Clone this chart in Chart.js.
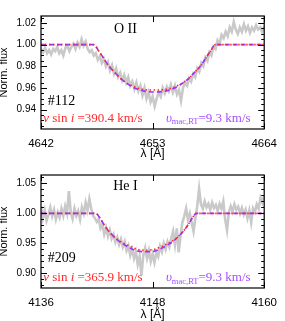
<!DOCTYPE html>
<html><head><meta charset="utf-8">
<script src="https://cdn.jsdelivr.net/npm/chart.js@4/dist/chart.umd.min.js"></script>
<style>
html,body{margin:0;padding:0;background:#fff;}
#wrap{position:relative;width:285px;height:321px;overflow:hidden;}
.pn{position:absolute;left:0;width:285px;}
</style></head><body>
<div id="wrap">
<div class="pn" style="top:0;height:160px"><canvas id="c1"></canvas></div>
<div class="pn" style="top:160px;height:161px"><canvas id="c2"></canvas></div>
</div>
<script>
// ---------- Panel 1 : O II ----------
const p1XTicks = [4642, 4653, 4664];
const p1YTicks = [0.94, 0.96, 0.98, 1.00, 1.02];
const obs1Start = 4642, obs1Step = 0.2;
const obs1Flux = [
0.996,0.993,0.997,0.992,0.995,0.991,0.996,0.994,0.998,0.992,
0.995,0.990,0.997,0.999,0.994,0.998,1.001,0.996,1.002,0.998,
1.005,0.999,1.003,0.996,0.993,0.995,0.990,0.992,0.986,0.989,
0.983,0.987,0.980,0.984,0.976,0.981,0.973,0.978,0.970,0.974,
0.967,0.972,0.965,0.970,0.962,0.966,0.959,0.965,0.957,0.962,
0.953,0.960,0.950,0.956,0.947,0.952,0.943,0.950,0.956,0.952,
0.960,0.955,0.961,0.957,0.963,0.956,0.962,0.954,0.958,0.948,
0.960,0.965,0.962,0.969,0.966,0.973,0.970,0.978,0.975,0.983,
0.980,0.988,0.985,0.993,0.990,0.998,0.996,1.004,1.001,1.009,
1.006,1.012,1.008,1.016,1.012,1.021,1.014,1.010,1.016,1.012,
1.019,1.013,1.017,1.011,1.016,1.013,1.018,1.014,1.016,1.012,
1.017];
const mod1Wave  = [4642,4647.2,4647.7,4648.2,4648.7,4649.2,4649.7,4650.2,4651.2,4652.2,4653.2,4654.2,4655.2,4656.2,4656.7,4657.2,4657.7,4658.2,4658.7,4659.2,4664];
const mod1Vmac  = [1,1,0.994,0.987,0.980,0.975,0.970,0.966,0.960,0.957,0.9562,0.957,0.960,0.966,0.970,0.975,0.980,0.987,0.994,1,1];
const mod1Vsini = [1,1,0.994,0.987,0.980,0.975,0.970,0.966,0.961,0.9585,0.958,0.9585,0.961,0.966,0.970,0.975,0.980,0.987,0.994,1,1];

// ---------- Panel 2 : He I ----------
const p2XTicks = [4136, 4148, 4160];
const p2YTicks = [0.90, 0.95, 1.00, 1.05];
const obs2Start = 4136, obs2Step = 0.2;
const obs2Flux = [
1.012,0.992,1.005,0.988,0.998,1.010,0.995,1.006,0.990,1.002,
0.993,1.008,0.996,1.012,1.000,1.037,1.002,0.991,1.008,0.996,
1.004,0.990,1.010,1.000,1.018,1.005,1.024,1.008,0.996,0.992,
0.986,0.990,0.975,0.982,0.965,0.976,0.962,0.972,0.958,0.965,
0.952,0.960,0.948,0.957,0.944,0.953,0.938,0.946,0.930,0.940,
0.925,0.936,0.915,0.928,0.897,0.930,0.942,0.925,0.938,0.920,
0.932,0.918,0.935,0.928,0.945,0.936,0.950,0.940,0.953,0.944,
0.958,0.970,0.948,0.975,0.935,0.962,0.985,0.995,1.008,0.990,
1.000,0.985,0.970,0.992,1.012,1.041,1.015,1.008,1.020,1.010,
1.016,1.006,1.018,1.009,1.014,1.004,1.016,1.008,1.020,0.990,
0.972,1.002,1.012,1.003,1.015,1.006,1.011,1.000,1.009,0.998,
1.006,0.992,1.005,0.985,1.008,1.002,1.015,1.008,1.026,1.018,
1.030];
const mod2Wave  = [4136,4141.9,4142.3,4142.7,4143.1,4143.6,4144.2,4144.8,4145.6,4146.4,4147.3,4148.2,4149.0,4149.8,4150.4,4151.0,4151.5,4151.9,4152.3,4152.7,4160];
const mod2Vmac  = [1,1,0.993,0.983,0.974,0.965,0.956,0.949,0.942,0.937,0.936,0.937,0.942,0.949,0.956,0.965,0.974,0.983,0.993,1,1];
const mod2Vsini = [1,1,0.993,0.983,0.974,0.965,0.957,0.951,0.945,0.940,0.9385,0.940,0.945,0.951,0.957,0.965,0.974,0.983,0.993,1,1];

const GRAY = '#c9c9c9', RED = '#ff2a2a', PURPLE = '#9933ff', PURPLE_TXT = '#a64dff';
const SANS = "'Liberation Sans', Arial, sans-serif";
const SERIF = "'Liberation Serif', 'Times New Roman', serif";

function seriesXY(start, step, arr){ return arr.map((v,i)=>({x:+(start+i*step).toFixed(2), y:v})); }
function pairXY(xs, ys){ return xs.map((x,i)=>({x:x, y:ys[i]})); }

const framePlugin = {
  id:'frame',
  afterDraw(chart){
    const o = chart.options.plugins.frame;
    const {ctx, chartArea:a, scales:{x,y}} = chart;
    ctx.save();
    ctx.strokeStyle = '#000'; ctx.lineWidth = 1.2;
    ctx.strokeRect(a.left, a.top, a.right-a.left, a.bottom-a.top);
    ctx.lineWidth = 1;
    ctx.beginPath();
    o.yTicks.forEach(v=>{
      const p = Math.round(y.getPixelForValue(v))+0.5;
      ctx.moveTo(a.left,p); ctx.lineTo(a.left+6,p);
      ctx.moveTo(a.right,p); ctx.lineTo(a.right-6,p);
    });
    for(let v=Math.ceil(y.min/o.yMinor)*o.yMinor; v<=y.max; v+=o.yMinor){
      const p = Math.round(y.getPixelForValue(v))+0.5;
      ctx.moveTo(a.left,p); ctx.lineTo(a.left+3,p);
      ctx.moveTo(a.right,p); ctx.lineTo(a.right-3,p);
    }
    o.xTicks.forEach(v=>{
      const p = Math.round(x.getPixelForValue(v))+0.5;
      ctx.moveTo(p,a.top); ctx.lineTo(p,a.top+6);
      ctx.moveTo(p,a.bottom); ctx.lineTo(p,a.bottom-6);
    });
    ctx.stroke();

    // annotations
    const W = a.right-a.left, H = a.bottom-a.top;
    const X = f=>a.left+f*W, Y = f=>a.top+f*H;
    ctx.textBaseline = 'alphabetic';
    ctx.fillStyle = '#000';
    ctx.font = '14px '+SERIF;
    ctx.textAlign = 'center';
    ctx.fillText(o.ion, X(0.378), Y(o.ionY));
    ctx.textAlign = 'left';
    ctx.font = '14px '+SERIF;
    ctx.fillText(o.star, X(0.03), Y(o.starY));

    // v sin i text (red)
    let cx = X(0.01); const by = Y(o.txtY);
    ctx.fillStyle = RED;
    const parts = [['italic 13px ','v'],['13px ',' sin '],['italic 13px ','i'],['13px ',' ='+o.vsini+' km/s']];
    parts.forEach(([f,t])=>{ ctx.font=f+SERIF; ctx.fillText(t,cx,by); cx+=ctx.measureText(t).width; });

    // v_mac,RT text (purple), right aligned
    ctx.fillStyle = PURPLE_TXT;
    const pp = [['italic 13px ','υ',0],['8.5px ','mac,RT',2.5],['13px ','='+o.vmac+' km/s',0]];
    let tot = 0;
    pp.forEach(([f,t])=>{ ctx.font=f+SERIF; tot+=ctx.measureText(t).width; });
    cx = X(0.939) - tot;
    pp.forEach(([f,t,dy])=>{ ctx.font=f+SERIF; ctx.fillText(t,cx,by+dy); cx+=ctx.measureText(t).width; });
    ctx.restore();
  }
};

function makeChart(id, cfg){
  return new Chart(document.getElementById(id), {
    type:'line',
    data:{ datasets:[
      {data:cfg.vsini, borderColor:RED, borderWidth:1.6, borderDash:[1.5,2.5], pointRadius:0, cubicInterpolationMode:'monotone', order:1},
      {data:cfg.vmac, borderColor:PURPLE, borderWidth:1.6, borderDash:[5,3], pointRadius:0, cubicInterpolationMode:'monotone', order:2},
      {data:cfg.obs, borderColor:GRAY, borderWidth:2.6, pointRadius:0, tension:0, order:3}
    ]},
    options:{
      responsive:true, maintainAspectRatio:false, animation:false,
      layout:{padding:{left:0,right:19,top:cfg.top,bottom:0}},
      plugins:{legend:{display:false}, tooltip:{enabled:false},
        frame:{xTicks:cfg.xTicks, yTicks:cfg.yTicks, yMinor:cfg.yMinor, ion:cfg.ion, ionY:cfg.ionY,
               star:cfg.star, starY:cfg.starY, txtY:cfg.txtY, vsini:cfg.vsiniTxt, vmac:'9.3'}},
      scales:{
        x:{type:'linear', min:cfg.xTicks[0], max:cfg.xTicks[cfg.xTicks.length-1],
           afterBuildTicks:s=>{s.ticks=cfg.xTicks.map(v=>({value:v}));},
           afterFit:s=>{s.height=cfg.xh;},
           grid:{display:false, drawTicks:false}, border:{display:false},
           ticks:{padding:8, color:'#000', font:{family:SANS,size:11.5}, maxRotation:0, autoSkip:false,
                  callback:v=>String(v)},
           title:{display:true, text:'λ [Å]', color:'#000', font:{family:SANS,size:12,lineHeight:1.1}, padding:{top:0,bottom:0}}},
        y:{type:'linear', min:cfg.ymin, max:cfg.ymax,
           afterBuildTicks:s=>{s.ticks=cfg.yTicks.map(v=>({value:v}));},
           afterFit:s=>{s.width=41;},
           grid:{display:false, drawTicks:false}, border:{display:false},
           ticks:{padding:5, color:'#000', font:{family:SANS,size:10}, callback:v=>v.toFixed(2)},
           title:{display:true, text:'Norm. flux', color:'#000', font:{family:SANS,size:11,lineHeight:0.8}, padding:0}}
      }
    },
    plugins:[framePlugin]
  });
}

makeChart('c1', {
  obs:seriesXY(obs1Start, obs1Step, obs1Flux),
  vmac:pairXY(mod1Wave, mod1Vmac), vsini:pairXY(mod1Wave, mod1Vsini),
  xTicks:p1XTicks, yTicks:p1YTicks, yMinor:0.005, ymin:0.922, ymax:1.0265,
  top:16, xh:31, ion:'O II', ionY:0.15, star:'#112', starY:0.788, txtY:0.935, vsiniTxt:'390.4'
});
makeChart('c2', {
  obs:seriesXY(obs2Start, obs2Step, obs2Flux),
  vmac:pairXY(mod2Wave, mod2Vmac), vsini:pairXY(mod2Wave, mod2Vsini),
  xTicks:p2XTicks, yTicks:p2YTicks, yMinor:0.01, ymin:0.8755, ymax:1.064,
  top:15, xh:33, ion:'He I', ionY:0.135, star:'#209', starY:0.77, txtY:0.94, vsiniTxt:'365.9'
});
</script>
</body></html>
